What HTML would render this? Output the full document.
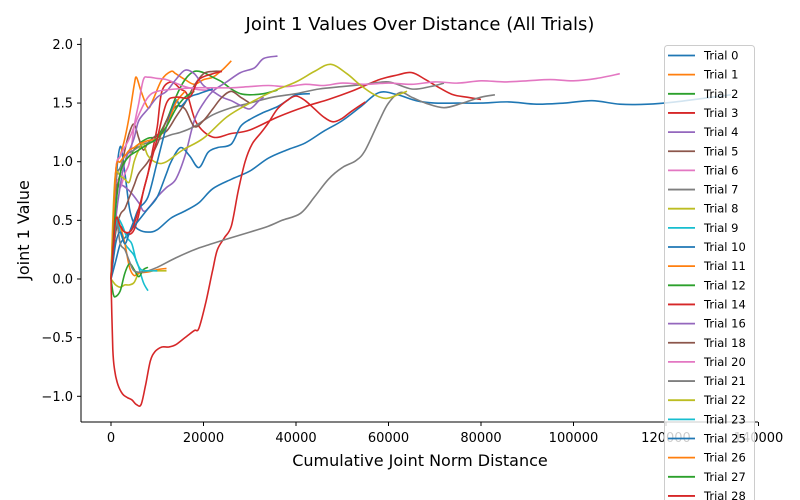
<!DOCTYPE html>
<html><head><meta charset="utf-8"><style>
body{margin:0;background:#fff;}
svg{display:block;font-family:"DejaVu Sans","Liberation Sans",sans-serif;}
</style></head><body>
<svg id="chart" width="800" height="500" viewBox="0 0 800 500">
<text x="420" y="30" text-anchor="middle" font-size="18" fill="#000">Joint 1 Values Over Distance (All Trials)</text>
<g id="axes"></g>
<g id="lines"></g>
<text x="420" y="466" text-anchor="middle" font-size="16">Cumulative Joint Norm Distance</text>
<text transform="translate(29,230) rotate(-90)" text-anchor="middle" font-size="16">Joint 1 Value</text>
<g id="legend"></g>
</svg>
<script>
const trialNames=["Trial 0","Trial 1","Trial 2","Trial 3","Trial 4","Trial 5","Trial 6","Trial 7","Trial 8","Trial 9","Trial 10","Trial 11","Trial 12","Trial 14","Trial 16","Trial 18","Trial 20","Trial 21","Trial 22","Trial 23","Trial 25","Trial 26","Trial 27","Trial 28"];
const xTicks=[0,20000,40000,60000,80000,100000,120000,140000];
const yTicks=[-1.0,-0.5,0.0,0.5,1.0,1.5,2.0];
// x in thousands
const s0x=[0,1,2,3,4,5,6,8,10,13,16,19,22,26,30,34,38,42,46,50,54,58,62,66,70,75,80,86,92,98,104,110,116,122,128,134];
const s0y=[0,0.8,1.13,0.9,0.6,0.47,0.42,0.4,0.42,0.52,0.58,0.65,0.77,0.85,0.92,1.03,1.1,1.16,1.26,1.35,1.47,1.59,1.57,1.52,1.5,1.5,1.5,1.51,1.49,1.5,1.52,1.49,1.49,1.51,1.54,1.57];
const s1x=[0,1,2,3,4,5,5.5,6.5,8,9,11,13,14,16,18,20,22,24,26];
const s1y=[0,0.9,1.05,1.2,1.4,1.65,1.72,1.6,1.46,1.52,1.7,1.77,1.75,1.7,1.66,1.7,1.72,1.78,1.86];
const s2x=[0,1,2,4,6,8,10,12,14,16,18,20,22,24,26,28,30,33,36];
const s2y=[0,0.8,0.95,1.05,1.15,1.2,1.22,1.35,1.55,1.7,1.77,1.76,1.72,1.68,1.62,1.58,1.57,1.58,1.61];
const s3x=[0,1,2,3,4,5,6,7,8,9,10,11,13,15,16.5,18.5,22,26,30,36,42,47,52,58,62,65,68,71,74,77,80];
const s3y=[0,0.4,0.45,0.4,0.38,0.42,0.55,0.75,0.9,1.1,1.3,1.6,1.68,1.62,1.57,1.33,1.21,1.24,1.27,1.38,1.47,1.53,1.6,1.7,1.74,1.76,1.7,1.63,1.57,1.55,1.53];
const s4x=[0,1,2,4,6,7,8,10,12,14,16,18,20,22,25,28,31,33,36];
const s4y=[0,0.7,0.8,0.75,0.65,0.58,0.6,0.7,0.78,0.85,1.05,1.35,1.5,1.6,1.68,1.76,1.8,1.88,1.9];
const s5x=[0,1,2,3,4,5,6,7,8,10,12,14,16,18,20,22,24];
const s5y=[0,0.7,0.9,1.1,1.25,1.32,1.2,1.1,1.16,1.23,1.26,1.38,1.5,1.65,1.75,1.77,1.77];
const s6x=[0,1,2,3,4,5,6,7,8,10,12,14,16,18,20,22];
const s6y=[0,0.8,0.78,0.9,1.0,1.3,1.5,1.7,1.72,1.71,1.7,1.67,1.64,1.62,1.61,1.61];
const s7x=[0,1,2,3,5,7,9,11,13,15,18,22,26,30,35,40,45,50,55,60,65,69,72];
const s7y=[0,0.8,0.95,1.05,1.1,1.15,1.17,1.2,1.23,1.25,1.3,1.4,1.46,1.5,1.55,1.58,1.62,1.64,1.66,1.68,1.62,1.64,1.67];
const s8x=[0,1,2,3,4,5,6,7,8,10,12];
const s8y=[0,-0.05,-0.07,-0.05,-0.05,-0.03,0.05,0.06,0.07,0.07,0.07];
const s9x=[0,0.5,1,1.5,2,3,4,5,6,7,8];
const s9y=[0,0.3,0.5,0.48,0.4,0.3,0.25,0.2,0.1,-0.03,-0.1];
const s10x=[0,1,2,3,4,6,8,10,12,13,15,17,19,21,23,26,28,30,33,36,38,40,43];
const s10y=[0,0.15,0.3,0.35,0.4,0.5,0.6,0.7,0.9,1.0,1.12,1.05,0.95,1.08,1.12,1.15,1.3,1.36,1.42,1.47,1.52,1.57,1.58];
const s11x=[0,0.5,1,2,3,4,5,6,8,10,12];
const s11y=[0,0.5,0.55,0.45,0.3,0.1,0.03,0.05,0.06,0.08,0.09];
const s12x=[0,0.5,1,2,3,4,5,6,7,8];
const s12y=[0,-0.13,-0.15,-0.1,0.05,0.13,0.08,0.02,0.08,0.1];
const s14x=[0,0.4,0.8,1.5,2.5,3.5,4.5,5.5,6.5,7.5,8.5,9.5,11,12.5,14,16,18,19,20.5,22,23,24.5,26,27.5,29,30.5,32.5,34,36,38,40,42,44,46,48,50,52,55];
const s14y=[0,-0.6,-0.78,-0.9,-0.98,-1.01,-1.03,-1.07,-1.07,-0.9,-0.7,-0.62,-0.58,-0.58,-0.56,-0.5,-0.44,-0.42,-0.2,0.08,0.25,0.35,0.45,0.75,1.0,1.15,1.25,1.33,1.45,1.52,1.56,1.52,1.45,1.38,1.34,1.37,1.43,1.51];
const s16x=[0,1,2,3,4,5,6,8,10,12,14,16,18,20,22,24,26,28,30,32,33];
const s16y=[0,0.5,0.8,1.0,1.1,1.2,1.35,1.45,1.55,1.6,1.7,1.78,1.75,1.65,1.6,1.55,1.52,1.48,1.45,1.52,1.55];
const s18x=[0,1,2,3,4,5,6,8,10,12,14,16,18,20,22,24,26,28,30];
const s18y=[0,0.4,0.55,0.6,0.7,0.8,0.9,1.0,1.15,1.35,1.47,1.45,1.3,1.35,1.45,1.55,1.6,1.55,1.5];
const s20x=[0,1,2,4,6,8,10,14,18,22,26,30,34,38,42,46,50,55,60,65,70,75,80,85,90,95,100,105,110];
const s20y=[0,0.9,1.05,1.2,1.4,1.55,1.6,1.62,1.63,1.63,1.63,1.64,1.65,1.64,1.66,1.65,1.67,1.66,1.67,1.66,1.68,1.67,1.69,1.68,1.69,1.7,1.69,1.71,1.75];
const s21x=[0,1,2,3,4,5,7,10,14,18,21,25,30,34,37,41,44,47,50,53,55,58,60,62.5,65,68,72,76,80,83];
const s21y=[0,0.5,0.3,0.25,0.15,0.07,0.06,0.1,0.18,0.25,0.29,0.34,0.4,0.45,0.5,0.56,0.7,0.85,0.95,1.01,1.1,1.35,1.5,1.59,1.55,1.5,1.46,1.5,1.55,1.57];
const s22x=[0,0.5,1,2,3,4,5,6,7,8,10,12,15.5,20,25,30,35,40,44,47.5,51,54,57,59.5,62,64];
const s22y=[0,0.6,0.9,0.88,0.85,0.83,1.0,1.1,1.15,1.05,0.99,1.0,1.1,1.2,1.38,1.5,1.6,1.68,1.77,1.83,1.75,1.65,1.57,1.54,1.57,1.6];
const s23x=[0,0.5,1,1.5,2.5,3.5,4.5,5.5,6.5,8,10];
const s23y=[0,0.3,0.45,0.52,0.45,0.35,0.3,0.15,0.08,0.07,0.07];
const s25x=[0,1,2,3,4,5,6,8,10,12,14,15,17,19,22];
const s25y=[0,0.3,0.4,0.3,0.4,0.5,0.6,0.7,1.0,1.3,1.52,1.47,1.55,1.58,1.62];
const s26x=[0,1,2,3,4,5,6,8,10,12,14,16];
const s26y=[0,0.9,1.0,1.05,1.1,1.12,1.15,1.18,1.2,1.3,1.5,1.6];
const s27x=[0,1,2,3,4,6,8,10,12,14,16,18];
const s27y=[0,0.6,0.9,1.0,1.05,1.1,1.15,1.2,1.3,1.45,1.55,1.6];
const s28x=[0,1,2,3,4.5,6,8,10,12,14,17,19,22,24];
const s28y=[0,0.5,0.45,0.4,0.42,0.6,0.9,1.2,1.5,1.55,1.55,1.7,1.75,1.77];
const seriesX=[s0x,s1x,s2x,s3x,s4x,s5x,s6x,s7x,s8x,s9x,s10x,s11x,s12x,s14x,s16x,s18x,s20x,s21x,s22x,s23x,s25x,s26x,s27x,s28x];
const seriesY=[s0y,s1y,s2y,s3y,s4y,s5y,s6y,s7y,s8y,s9y,s10y,s11y,s12y,s14y,s16y,s18y,s20y,s21y,s22y,s23y,s25y,s26y,s27y,s28y];
const colors=["#1f77b4","#ff7f0e","#2ca02c","#d62728","#9467bd","#8c564b","#e377c2","#7f7f7f","#bcbd22","#17becf"];
const NS="http://www.w3.org/2000/svg";
const xS=v=>111+v*647.5/140000;
const yS=v=>279-v*117.3;
function mk(tag,attrs,parent){const e=document.createElementNS(NS,tag);for(const k in attrs)e.setAttribute(k,attrs[k]);parent.appendChild(e);return e;}
const axes=document.getElementById('axes');
const sp1=mk('line',{x1:81,y1:38,x2:81,y2:422,stroke:'#000','stroke-width':1},axes);


const sp2=mk('line',{x1:81,y1:422,x2:758,y2:422,stroke:'#000','stroke-width':1},axes);


xTicks.forEach(t=>{const x=xS(t);
 const l=mk('line',{x1:x,y1:422,x2:x,y2:426,stroke:'#000'},axes);
 
 
 const tx=mk('text',{x:x,y:442,'text-anchor':'middle','font-size':13},axes);tx.textContent=String(t);
 
 });
yTicks.forEach(t=>{const y=yS(t);
 const l=mk('line',{x1:77,y1:y,x2:81,y2:y,stroke:'#000'},axes);
 
 
 const tx=mk('text',{x:73,y:y+4.5,'text-anchor':'end','font-size':13},axes);tx.textContent=(t<0?'\u2212':'')+Math.abs(t).toFixed(1);
 
 });
function smooth(pts){let d='M'+pts[0][0].toFixed(1)+','+pts[0][1].toFixed(1);
 for(let i=0;i<pts.length-1;i++){const p0=pts[Math.max(i-1,0)],p1=pts[i],p2=pts[i+1],p3=pts[Math.min(i+2,pts.length-1)];
  const c1=[p1[0]+(p2[0]-p0[0])/6,p1[1]+(p2[1]-p0[1])/6],c2=[p2[0]-(p3[0]-p1[0])/6,p2[1]-(p3[1]-p1[1])/6];
  d+=' C'+c1[0].toFixed(1)+','+c1[1].toFixed(1)+' '+c2[0].toFixed(1)+','+c2[1].toFixed(1)+' '+p2[0].toFixed(1)+','+p2[1].toFixed(1);}
 return d;}
const lines=document.getElementById('lines');
seriesX.forEach((xs,i)=>{const pts=xs.map((x,j)=>[xS(x*1000),yS(seriesY[i][j])]);
 const p=mk('path',{d:smooth(pts),fill:'none',stroke:colors[i%10],'stroke-width':1.6,'stroke-linejoin':'round'},lines);
 
 });
const lg=document.getElementById('legend');
const box=mk('rect',{x:664.5,y:45.5,width:90,height:470,rx:3,fill:'rgba(255,255,255,0.8)',stroke:'#cccccc'},lg);


trialNames.forEach((n,i)=>{const y=55.5+i*19.15;
 const l=mk('line',{x1:668,y1:y,x2:695,y2:y,stroke:colors[i%10],'stroke-width':1.8},lg);
 
 
 const t=mk('text',{x:704,y:y+4,'font-size':11.5},lg);t.textContent=n;
 
 });
</script>
</body></html>
